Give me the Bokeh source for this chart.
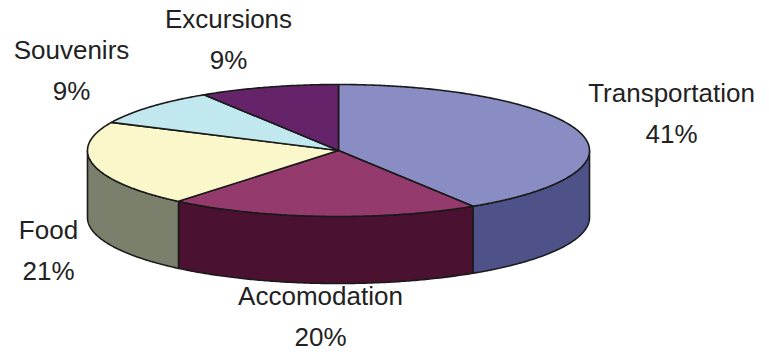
import numpy as np
from bokeh.plotting import figure
from bokeh.models import Range1d, ColumnDataSource
from bokeh.core.properties import value
from bokeh.embed import file_html
from bokeh.resources import INLINE

# ---- data ----
categories = ["Transportation", "Accomodation", "Food", "Souvenirs", "Excursions"]
percents = [41, 20, 21, 9, 9]

# ---- styles / layout ----
top_colors = ["#8A8DC4", "#943A6C", "#FAF8CA", "#C2E8EF", "#65246A"]
side_colors = ["#4F5289", "#4A1131", "#7B806C", "#8AAAB0", "#3A1040"]
label_pos = [(671, 113), (320, 316), (48, 250), (71, 70), (228, 39)]

CX, CY, RX, RY, DEPTH = 338, 150, 251, 66, 67

W, H = 761, 352
p = figure(width=W, height=H, output_backend="svg", toolbar_location=None,
           x_range=Range1d(0, W), y_range=Range1d(H, 0),
           min_border=0, outline_line_color=None, background_fill_color="white")
p.axis.visible = False
p.grid.visible = False

vals = np.array(percents, dtype=float)
frac = vals / vals.sum()
cum = np.concatenate([[0], np.cumsum(frac)])
t_start = 90 - 360 * cum[:-1]
t_end = 90 - 360 * cum[1:]


def arc(a, b, n=None, dy=0.0):
    n = n or max(4, int(abs(b - a) * 2))
    t = np.radians(np.linspace(a, b, n))
    return CX + RX * np.cos(t), CY - RY * np.sin(t) + dy


# side faces (front half only: angles in (-180, 0) mod 360)
sx, sy, sc = [], [], []
for i in range(len(categories)):
    a, b = t_end[i], t_start[i]
    for k in (-1, 0, 1):
        lo, hi = max(a, -180 + 360 * k), min(b, 0 + 360 * k)
        if hi - lo > 1e-6:
            x1, y1 = arc(hi, lo)
            x2, y2 = arc(lo, hi, dy=DEPTH)
            sx.append(list(np.concatenate([x1, x2])))
            sy.append(list(np.concatenate([y1, y2])))
            sc.append(side_colors[i])
p.patches(sx, sy, fill_color=sc, line_color="#1a1a1a", line_width=1.6)

# top faces
tx, ty = [], []
for i in range(len(categories)):
    x, y = arc(t_start[i], t_end[i])
    tx.append([CX] + list(x))
    ty.append([CY] + list(y))
p.patches(tx, ty, fill_color=top_colors, line_color="#1a1a1a", line_width=1.6)

# labels
lx = [q[0] for q in label_pos]
ly = [q[1] for q in label_pos]
labels = [f"{c}\n{v}%" for c, v in zip(categories, percents)]
src = ColumnDataSource(dict(x=lx, y=ly, t=labels))
p.text("x", "y", text="t", source=src, text_align="center", text_baseline="middle",
       text_font=value("Liberation Sans"), text_font_size="26px", text_color="#222222",
       text_line_height=1.34)

open("out.html", "w").write(file_html(p, INLINE))
